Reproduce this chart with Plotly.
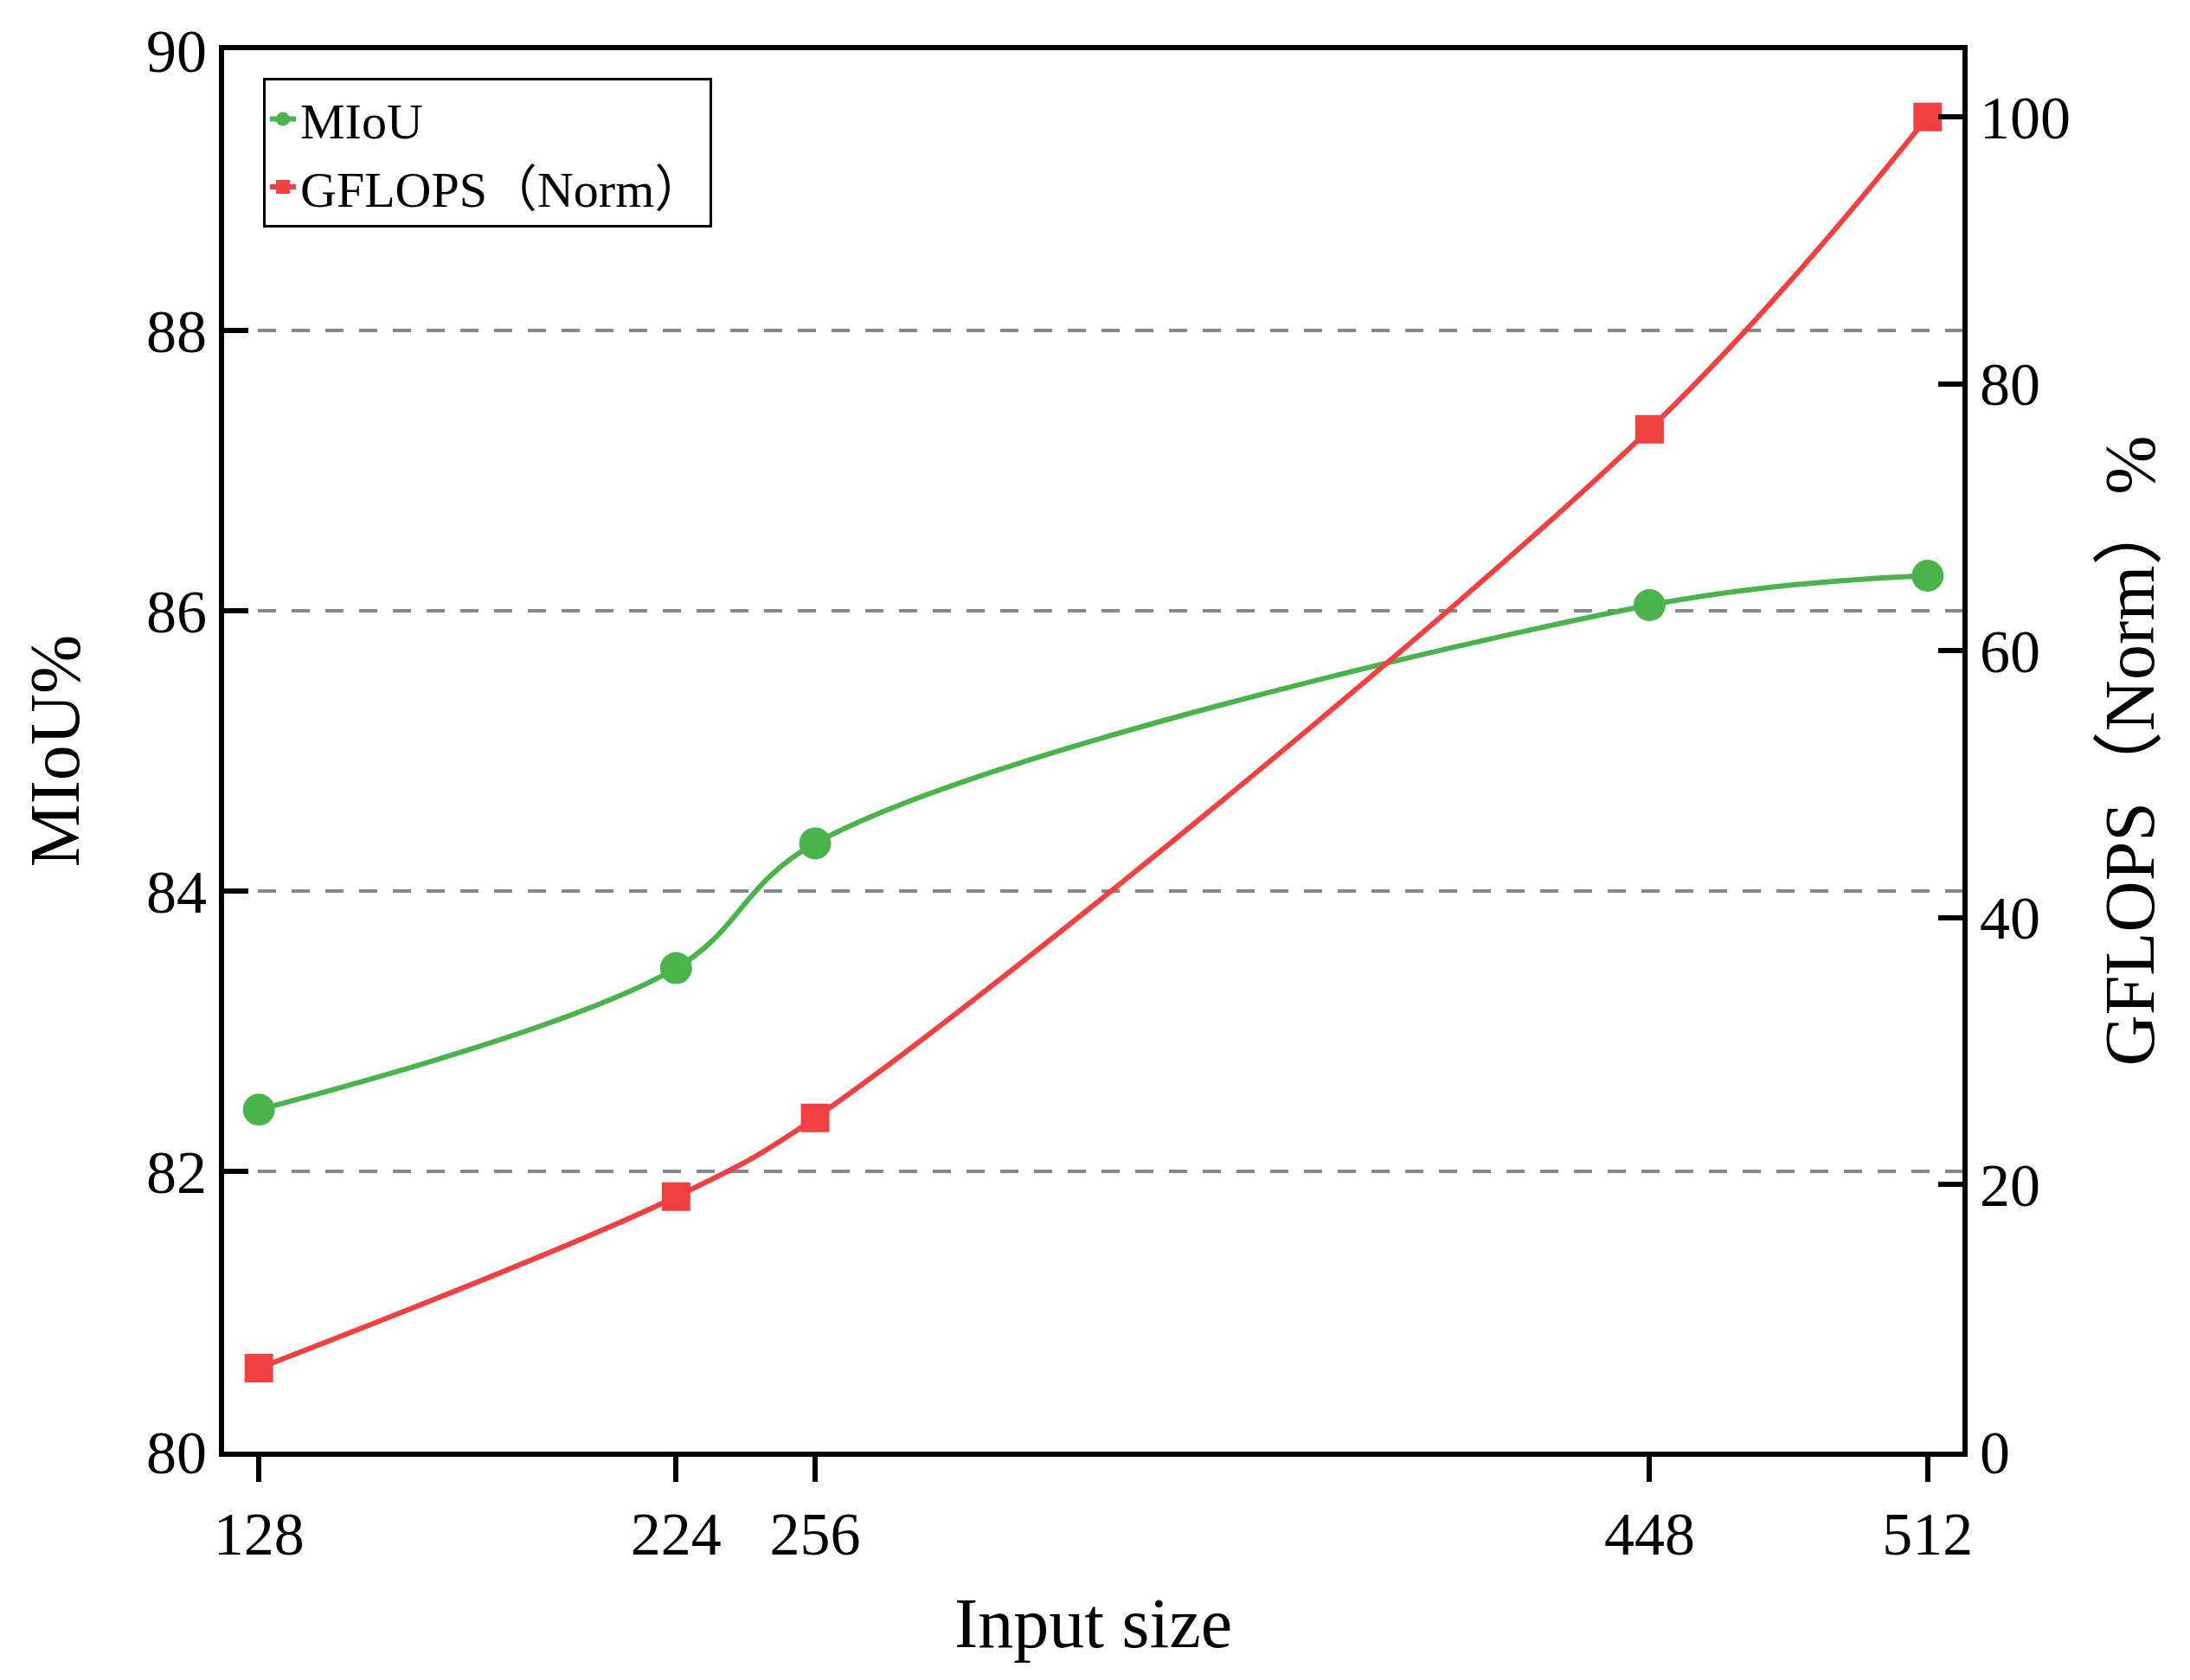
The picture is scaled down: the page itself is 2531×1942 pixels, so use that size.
import plotly.graph_objects as go

input_size = [128, 224, 256, 448, 512]
miou = [82.44, 83.45, 84.34, 86.04, 86.25]
gflops_norm = [6.25, 19.1, 25.0, 76.6, 100.0]
x_ticks = [128, 224, 256, 448, 512]
y_ticks = [80, 82, 84, 86, 88, 90]
y2_ticks = [0, 20, 40, 60, 80, 100]

FONT = "Liberation Serif, Times New Roman, Noto Sans CJK SC, serif"
GREEN = "#4BB34B"
RED = "#EF4142"

fig = go.Figure()
fig.add_trace(go.Scatter(
    x=input_size, y=miou, name="MIoU", mode="lines+markers",
    line=dict(color=GREEN, width=6, shape="spline", smoothing=1.0),
    marker=dict(symbol="circle", size=37, color=GREEN),
))
fig.add_trace(go.Scatter(
    x=input_size, y=gflops_norm, name="GFLOPS（Norm）", mode="lines+markers",
    yaxis="y2",
    line=dict(color=RED, width=6, shape="spline", smoothing=1.0),
    marker=dict(symbol="square", size=33, color=RED),
))

fig.update_layout(
    width=2531, height=1942,
    margin=dict(l=251, r=271, t=50, b=272),
    paper_bgcolor="white", plot_bgcolor="white",
    font=dict(family=FONT, color="black", size=70),
    showlegend=True,
    legend=dict(
        x=0.0224, y=0.980, xanchor="left", yanchor="top",
        bgcolor="white", bordercolor="black", borderwidth=3,
        font=dict(family=FONT, size=58),
        tracegroupgap=0, itemsizing="trace",
    ),
    xaxis=dict(
        range=[120, 520], tickvals=x_ticks, ticktext=[str(v) for v in x_ticks],
        ticks="outside", ticklen=29, tickwidth=6, tickcolor="black",
        showline=True, linewidth=6, linecolor="black", mirror=True,
        showgrid=False, zeroline=False,
        tickfont=dict(family=FONT, size=70),
        title=dict(text="Input size", font=dict(family=FONT, size=82), standoff=38),
    ),
    yaxis=dict(
        range=[80, 90], tickvals=y_ticks,
        ticks="inside", ticklen=28, tickwidth=6, tickcolor="black",
        showline=True, linewidth=6, linecolor="black",
        showgrid=True, gridcolor="#888888", gridwidth=4, griddash="21px,18px",
        zeroline=False,
        tickfont=dict(family=FONT, size=70),
        title=dict(text="MIoU%", font=dict(family=FONT, size=82), standoff=52),
    ),
    yaxis2=dict(
        range=[0, 105], tickvals=y2_ticks, overlaying="y", side="right",
        ticks="inside", ticklen=28, tickwidth=6, tickcolor="black",
        showline=True, linewidth=6, linecolor="black",
        showgrid=False, zeroline=False,
        tickfont=dict(family=FONT, size=70),
        title=dict(text="GFLOPS（Norm）%", font=dict(family=FONT, size=82), standoff=42),
    ),
)

fig.write_html("out.html")
